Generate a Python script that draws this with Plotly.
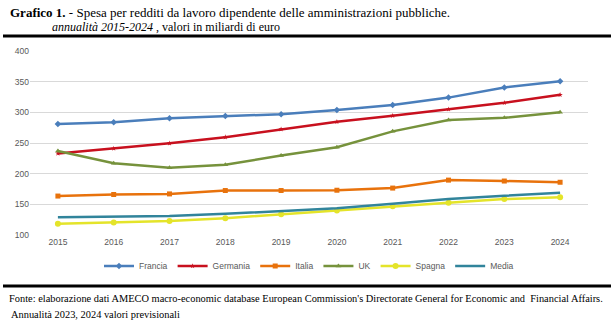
import plotly.graph_objects as go

# Spesa per redditi da lavoro dipendente, miliardi di euro
anni = ["2015", "2016", "2017", "2018", "2019", "2020", "2021", "2022", "2023", "2024"]
francia = [281, 284, 290.5, 294, 297, 304, 312, 324, 340.5, 350.5]
germania = [233, 241, 249.5, 259.5, 272.5, 284.5, 294.5, 305, 315.5, 328.5]
italia = [163.5, 166, 167, 172.5, 172.5, 173, 176.5, 189.5, 188, 186]
uk = [237, 217, 209.5, 214.5, 229.5, 243, 269, 287.5, 291, 300]
spagna = [118.5, 120.5, 123, 127.5, 134, 140, 147, 152.5, 158.5, 161.5]
media = [129, 129.5, 131, 134.5, 138.5, 143.5, 151, 158.5, 164, 169]

y_ticks = [100, 150, 200, 250, 300, 350, 400]

serie = [
    ("Francia", francia, "#4A7EBB", "diamond", 5),
    ("Germania", germania, "#C8101E", "star", 4),
    ("Italia", italia, "#E8720C", "square", 5),
    ("UK", uk, "#76923C", "triangle-up", 5),
    ("Spagna", spagna, "#E4E42A", "circle", 6),
    ("Media", media, "#31849B", None, 0),
]

W, H = 615, 330
ML, MR, MT, MB = 30, 27, 51, 95
PW, PH = W - ML - MR, H - MT - MB


def px(x):
    return (x - ML) / PW


def py(y):
    return (H - MB - y) / PH


fig = go.Figure()
for nome, valori, colore, simbolo, dim in serie:
    if simbolo:
        fig.add_trace(go.Scatter(
            x=anni, y=valori, name=nome, mode="lines+markers",
            line=dict(color=colore, width=2.5),
            marker=dict(symbol=simbolo, size=dim, color=colore),
        ))
    else:
        fig.add_trace(go.Scatter(
            x=anni, y=valori, name=nome, mode="lines",
            line=dict(color=colore, width=2.5),
        ))

serif = "Liberation Serif"
annotations = [
    dict(x=px(8), y=py(12), xanchor="left", yanchor="middle",
         text="<b>Grafico 1.</b> - Spesa per redditi da lavoro dipendente delle amministrazioni pubbliche.",
         font=dict(family=serif, size=13, color="#000000")),
    dict(x=px(50), y=py(27), xanchor="left", yanchor="middle",
         text="<i>annualità 2015-2024</i> , valori in miliardi di euro",
         font=dict(family=serif, size=12, color="#000000")),
    dict(x=px(7), y=py(298), xanchor="left", yanchor="middle",
         text="Fonte: elaborazione dati AMECO macro-economic database European Commission's Directorate General for Economic and  Financial Affairs.",
         font=dict(family=serif, size=10.4, color="#000000")),
    dict(x=px(9), y=py(314), xanchor="left", yanchor="middle",
         text="Annualità 2023, 2024 valori previsionali",
         font=dict(family=serif, size=10.4, color="#000000")),
]
for a in annotations:
    a.update(xref="paper", yref="paper", showarrow=False)

shapes = [
    dict(type="line", xref="paper", yref="paper", x0=px(3), x1=px(611), y0=py(36), y1=py(36),
         line=dict(color="#000000", width=3)),
    dict(type="line", xref="paper", yref="paper", x0=px(3), x1=px(611), y0=py(286), y1=py(286),
         line=dict(color="#000000", width=3)),
]

fig.update_layout(
    width=W, height=H,
    margin=dict(l=ML, r=MR, t=MT, b=MB),
    paper_bgcolor="white", plot_bgcolor="white",
    showlegend=True,
    legend=dict(orientation="h", x=0.5, xanchor="center", y=py(266), yanchor="middle",
                font=dict(family="Liberation Sans", size=8.5, color="#595959"),
                itemwidth=30, tracegroupgap=0, bgcolor="rgba(0,0,0,0)"),
    annotations=annotations,
    shapes=shapes,
    xaxis=dict(type="category", range=[-0.5, 9.5], showgrid=False, showline=False,
               ticks="", tickfont=dict(family="Liberation Sans", size=8.5, color="#595959"),
               fixedrange=True),
    yaxis=dict(range=[100, 400], tickvals=y_ticks, showgrid=True, gridcolor="#D9D9D9",
               gridwidth=1, zeroline=False, showline=False, ticks="",
               tickfont=dict(family="Liberation Sans", size=8.5, color="#595959"),
               fixedrange=True),
)

fig.write_html("out.html")
